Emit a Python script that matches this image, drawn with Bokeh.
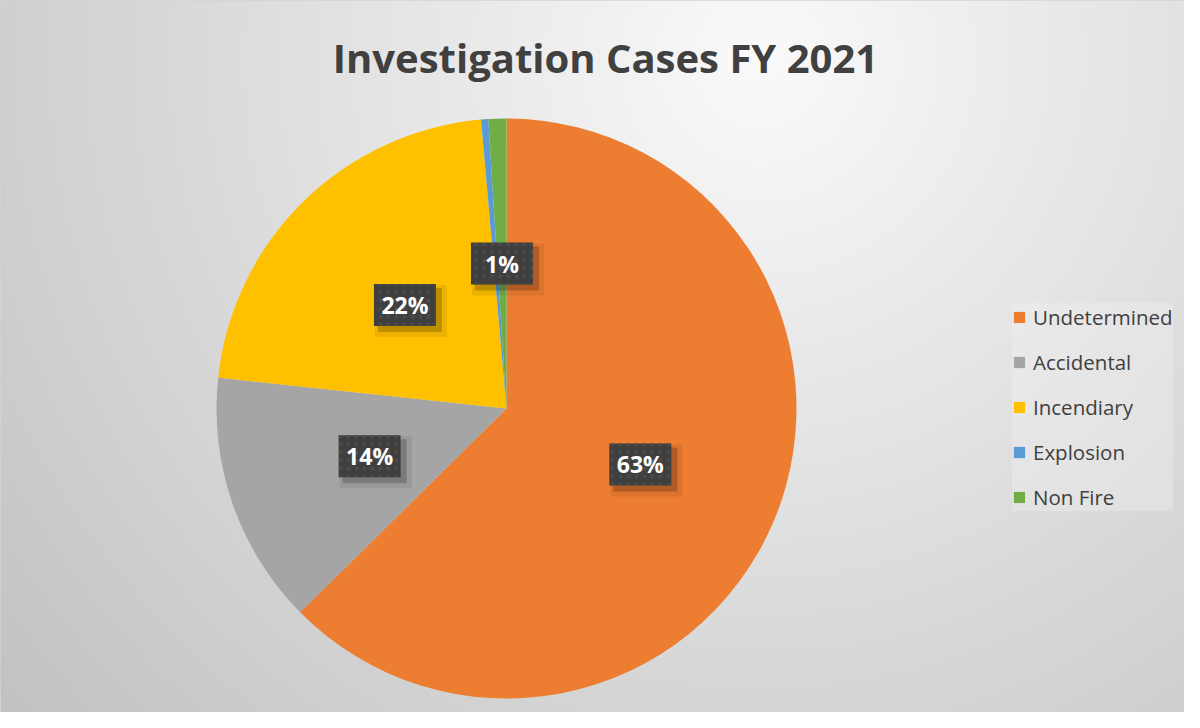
import numpy as np
from bokeh.plotting import figure
from bokeh.models import ColumnDataSource, Range1d
from bokeh.core.properties import value
from bokeh.embed import file_html
from bokeh.resources import INLINE

# ---- data ----
title_text = "Investigation Cases FY 2021"
categories = ["Undetermined", "Accidental", "Incendiary", "Explosion", "Non Fire"]
shares = [62.6, 14.1, 21.9, 0.4, 1.0]
colors = ["#ED7D31", "#A5A5A5", "#FFC000", "#5B9BD5", "#70AD47"]

# ---- layout (figure pixel coords, y up) ----
W, H = 1184, 712
def fx(px): return px
def fy(py): return H - py

cx, cy, R = fx(506), fy(408), 290

p = figure(width=W, height=H, x_range=Range1d(0, W), y_range=Range1d(0, H),
           output_backend="svg", toolbar_location=None, min_border=0)
p.axis.visible = False
p.grid.visible = False
p.outline_line_color = "#d4d4d4"
p.outline_line_width = 1
p.background_fill_color = "#d8d8d8"
p.border_fill_color = "#ffffff"

# background radial gradient
yy, xx = np.mgrid[0:H, 0:W]
gx, gy = fx(760), fy(60)
d = np.sqrt((xx - gx) ** 2 + (yy - gy) ** 2)
c = np.clip(250 - 0.056 * d, 190, 250).astype(np.uint32)
img = (255 << 24) | (c << 16) | (c << 8) | c
p.image_rgba(image=[img.astype(np.uint32)], x=0, y=0, dw=W, dh=H)

# pie
vals = np.array(shares, dtype=float)
frac = vals / vals.sum()
cum = np.concatenate([[0], np.cumsum(frac)])
start = np.pi / 2 - cum[:-1] * 2 * np.pi
end = np.pi / 2 - cum[1:] * 2 * np.pi
src = ColumnDataSource(dict(label=categories, start=start, end=end, color=colors))
p.wedge(x=cx, y=cy, radius=R, start_angle="start", end_angle="end",
        direction="clock", fill_color="color", line_color=None,
        legend_field="label", source=src)

# data labels
mid = (start + end) / 2
pct = np.round(frac * 100).astype(int)
show = pct >= 1
lx = cx + 0.5 * R * np.cos(mid[show])
ly = cy + 0.5 * R * np.sin(mid[show])
ltxt = [f"{v}%" for v in pct[show]]
lab = ColumnDataSource(dict(x=lx, y=ly, sx=lx + 5, sy=ly - 5, sx2=lx + 6, sy2=ly - 6, t=ltxt))
p.rect(x="sx2", y="sy2", width=72, height=52, fill_color="black", fill_alpha=0.07, line_color=None, source=lab)
p.rect(x="sx", y="sy", width=64, height=44, fill_color="black", fill_alpha=0.2, line_color=None, source=lab)
p.rect(x="x", y="y", width=62, height=42, fill_color="#3f3f3f", line_color=None,
       hatch_pattern="dot", hatch_color="#4b4b4b", hatch_scale=8, hatch_weight=1, source=lab)
p.text(x="x", y="y", text="t", text_align="center", text_baseline="middle",
       text_color="white", text_font=value("Open Sans"), text_font_style="bold",
       text_font_size="23px", source=lab)

# title
p.text(x=[fx(605)], y=[fy(57)], text=[title_text], text_align="center", text_baseline="middle",
       text_color="#404040", text_font=value("Open Sans"), text_font_style="bold",
       text_font_size="40px")

# legend
lg = p.legend[0]
lg.location = (fx(1012), H - 511)
lg.orientation = "vertical"
lg.background_fill_color = "#f4f4f4"
lg.background_fill_alpha = 0.3
lg.border_line_color = None
lg.padding = 10
lg.margin = 0
lg.spacing = 17
lg.glyph_width = 14
lg.glyph_height = 14
lg.label_height = 24
lg.label_standoff = 7
lg.label_text_font = "Open Sans"
lg.label_text_font_size = "20.5px"
lg.label_text_color = "#404040"
lg.label_text_baseline = "middle"

open("out.html", "w").write(file_html(p, INLINE))
